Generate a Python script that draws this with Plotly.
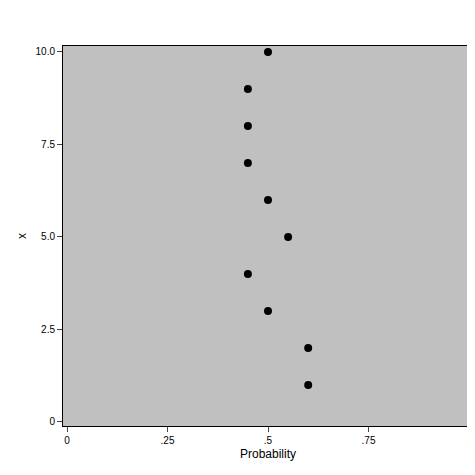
import plotly.graph_objects as go

x_vals = [1, 2, 3, 4, 5, 6, 7, 8, 9, 10]
prob = [0.6, 0.6, 0.5, 0.45, 0.55, 0.5, 0.45, 0.45, 0.45, 0.5]
xt_vals = [0, 0.25, 0.5, 0.75, 1]
xt_text = ["0", ".25", ".5", ".75", "1"]
yt_vals = [0, 2.5, 5, 7.5, 10]
yt_text = ["0", "2.5", "5.0", "7.5", "10.0"]

fig = go.Figure(go.Scatter(x=prob, y=x_vals, mode="markers",
                           marker=dict(color="black", size=8)))
fig.update_layout(
    width=475, height=475, paper_bgcolor="white", plot_bgcolor="#c0c0c0",
    margin=dict(l=55, r=10, t=38, b=57, autoexpand=False), showlegend=False,
    font=dict(family="Liberation Sans, Arial", size=10, color="black"),
)
fig.update_xaxes(range=[-0.01, 1.01], tickvals=xt_vals, ticktext=xt_text,
                 ticks="outside", ticklen=5, showgrid=False, zeroline=False,
                 showline=True, linecolor="black", mirror=True, automargin=False,
                 ticklabeloverflow="allow",
                 title=dict(text="Probability", standoff=4))
fig.update_yaxes(range=[-0.11, 10.16], tickvals=yt_vals, ticktext=yt_text,
                 ticks="outside", ticklen=5, showgrid=False, zeroline=False,
                 showline=True, linecolor="black", mirror=True, automargin=False,
                 ticklabeloverflow="allow",
                 title=dict(text="x", standoff=6))
fig.write_html("out.html")
